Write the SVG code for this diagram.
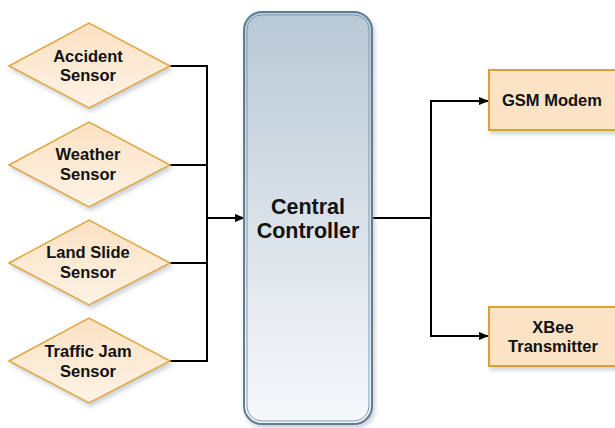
<svg xmlns="http://www.w3.org/2000/svg" width="615" height="428" viewBox="0 0 615 428">
<defs>
<linearGradient id="cg" x1="0" y1="0" x2="0" y2="1">
<stop offset="0" stop-color="#b9c9d5"/>
<stop offset="1" stop-color="#f7f9fb"/>
</linearGradient>
<linearGradient id="dg" x1="0" y1="0" x2="0" y2="1">
<stop offset="0" stop-color="#fce1c2"/>
<stop offset="1" stop-color="#fef3e6"/>
</linearGradient>
<filter id="sh" x="-20%" y="-20%" width="140%" height="140%">
<feDropShadow dx="2" dy="3" stdDeviation="2" flood-color="#6a7a90" flood-opacity="0.35"/>
</filter>
<marker id="ah" markerWidth="10" markerHeight="8" refX="9" refY="4" orient="auto" markerUnits="userSpaceOnUse">
<path d="M0,0 L10,4 L0,8 Z" fill="#000"/>
</marker>
</defs>
<style>
.dia{fill:url(#dg);stroke:#e0a840;stroke-width:1.5;filter:url(#sh)}
.box{fill:#fde3c6;stroke:#d9a030;stroke-width:2;filter:url(#sh)}
.t{font-family:"Liberation Sans",Arial,sans-serif;font-weight:bold;fill:#111;text-anchor:middle}
.s{font-size:16.5px}
.c{font-size:21.5px}
.ln{fill:none;stroke:#000;stroke-width:2}
</style>
<g id="connectors">
<polyline class="ln" points="170,66 207,66 207,361 170,361"/>
<line class="ln" x1="170" y1="165" x2="207" y2="165"/>
<line class="ln" x1="170" y1="263" x2="207" y2="263"/>
<line class="ln" x1="207" y1="218" x2="244" y2="218" marker-end="url(#ah)"/>
<line class="ln" x1="372" y1="218" x2="431" y2="218"/>
<polyline class="ln" points="488,101 431,101 431,336 488,336" marker-end="url(#ah)"/>
<line class="ln" x1="431" y1="101" x2="488" y2="101" marker-end="url(#ah)"/>
</g>
<g id="accident">
<polygon class="dia" points="9,66 89,23 170,66 89,108"/>
<text class="t s" x="88" y="62">Accident</text>
<text class="t s" x="88" y="81">Sensor</text>
</g>
<g id="weather">
<polygon class="dia" points="9,165 89,122 170,165 89,207"/>
<text class="t s" x="88" y="160">Weather</text>
<text class="t s" x="88" y="180">Sensor</text>
</g>
<g id="landslide">
<polygon class="dia" points="9,263 89,220 170,263 89,305"/>
<text class="t s" x="88" y="258">Land Slide</text>
<text class="t s" x="88" y="278">Sensor</text>
</g>
<g id="trafficjam">
<polygon class="dia" points="9,361 89,318 170,361 89,403"/>
<text class="t s" x="88" y="357">Traffic Jam</text>
<text class="t s" x="88" y="377">Sensor</text>
</g>
<g id="controller">
<rect x="244" y="12" width="128" height="412" rx="18" fill="url(#cg)" stroke="#5f7d96" stroke-width="2" filter="url(#sh)"/>
<rect x="247" y="15" width="122" height="406" rx="15" fill="none" stroke="#7f9bb0" stroke-width="1"/>
<text class="t c" x="308" y="214">Central</text>
<text class="t c" x="308" y="238">Controller</text>
</g>
<g id="gsm">
<rect class="box" x="489" y="70" width="130" height="60"/>
<text class="t s" x="552" y="106">GSM Modem</text>
</g>
<g id="xbee">
<rect class="box" x="489" y="307" width="130" height="59"/>
<text class="t s" x="553" y="333">XBee</text>
<text class="t s" x="553" y="352">Transmitter</text>
</g>
</svg>
